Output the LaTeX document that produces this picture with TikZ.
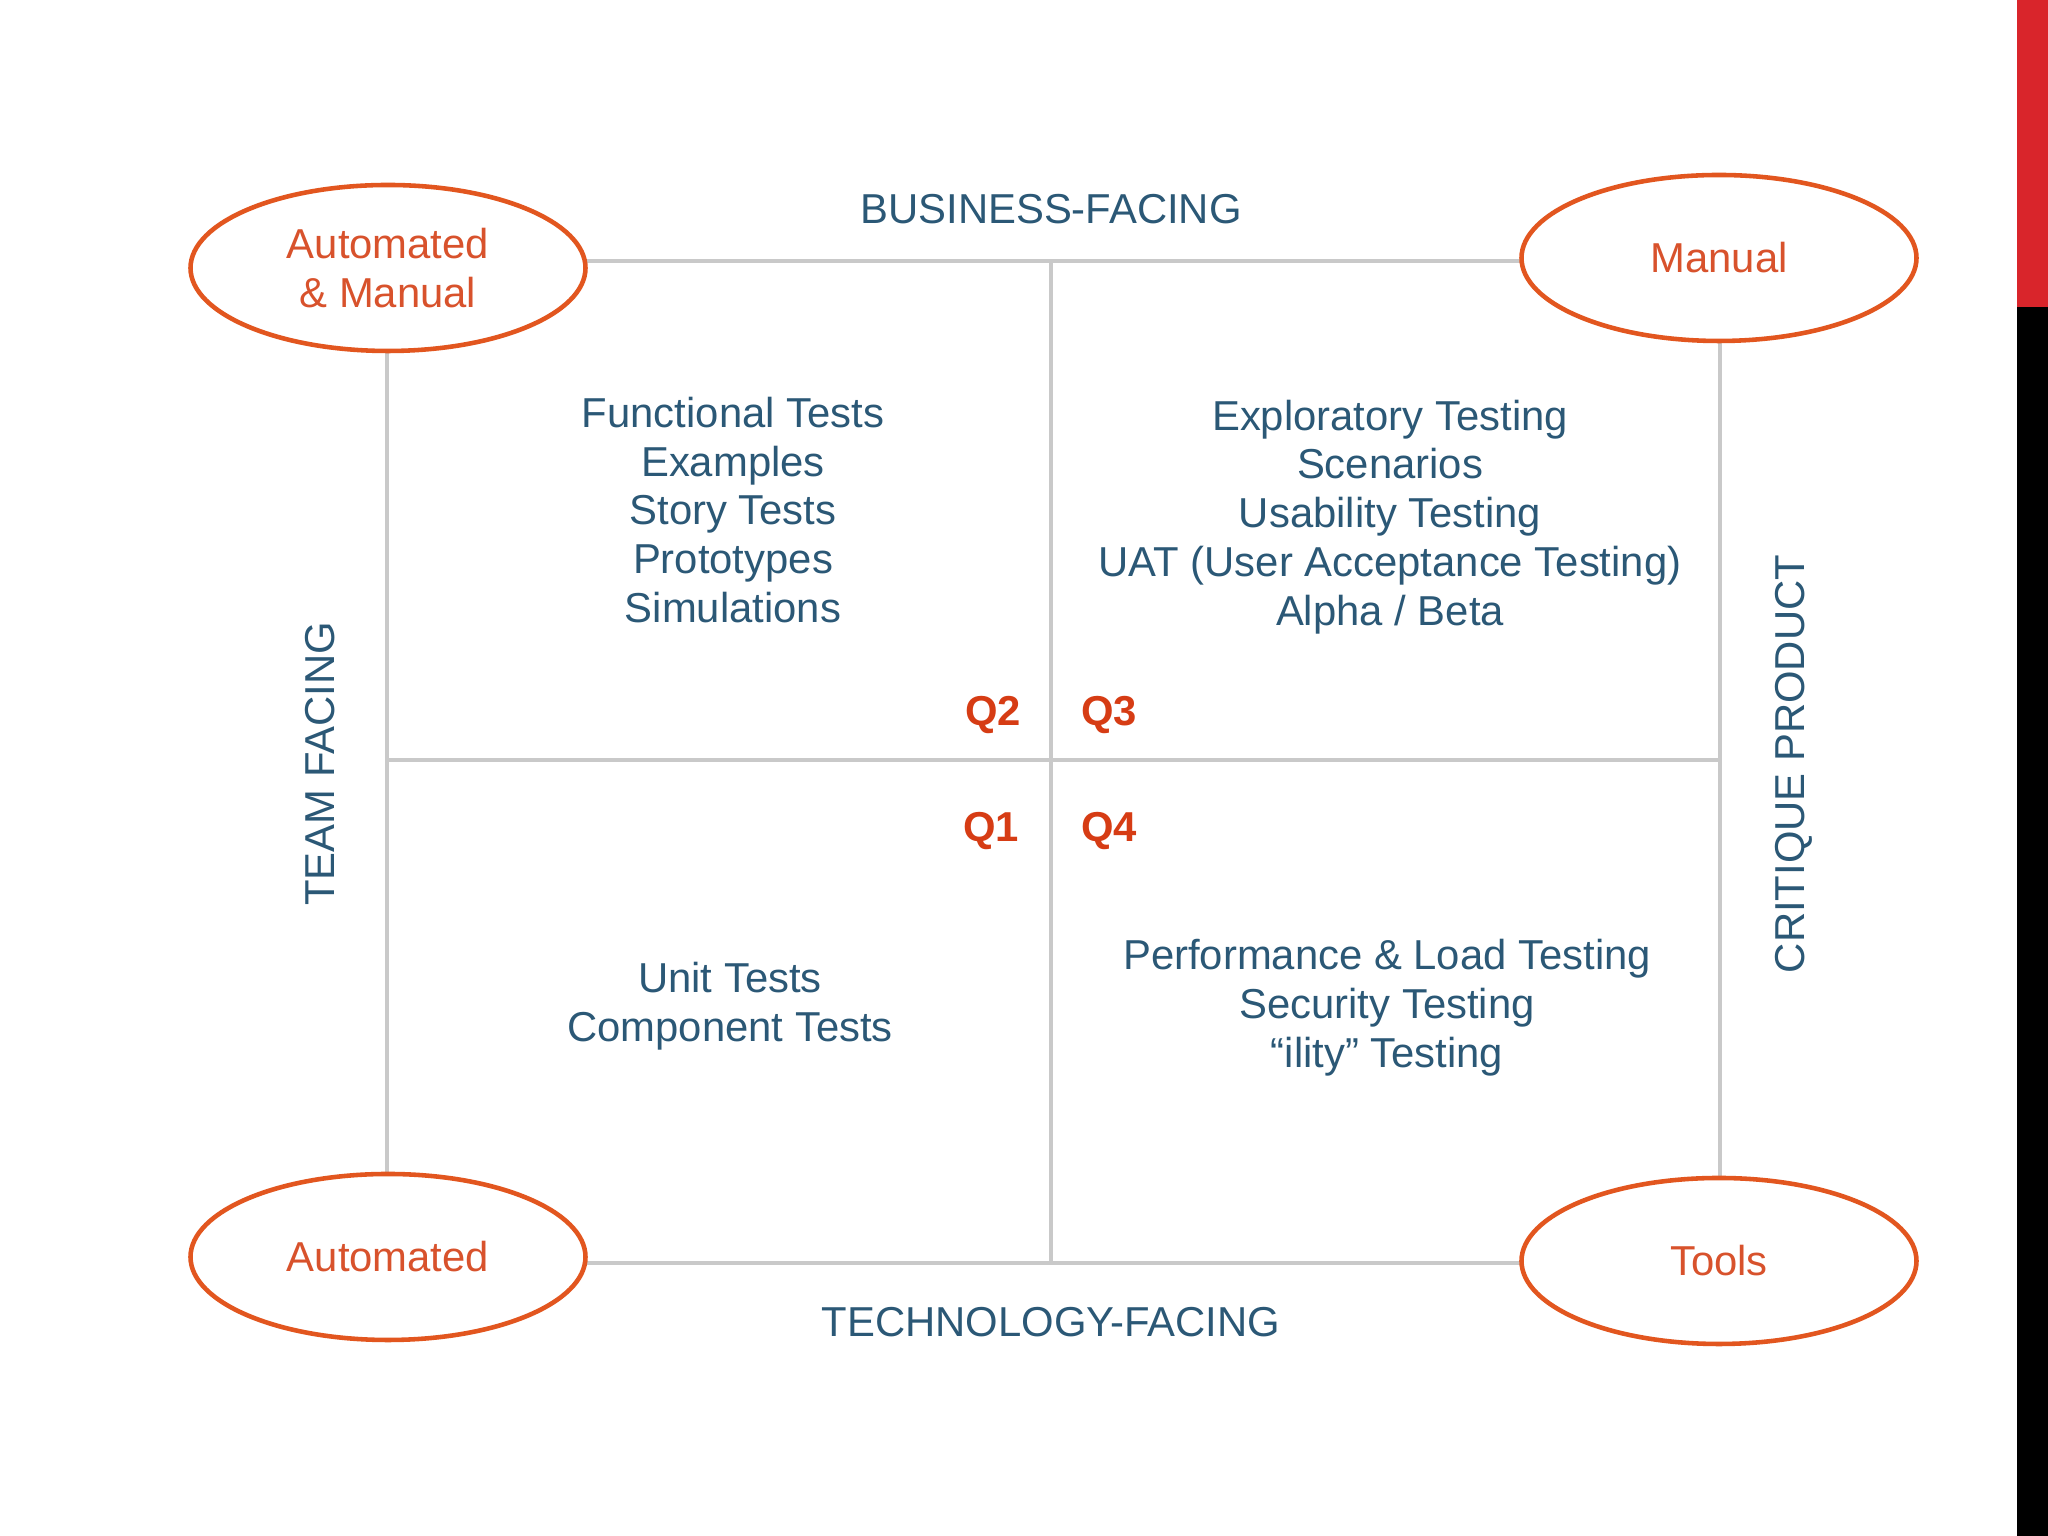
\documentclass[tikz,border=0pt]{standalone}
\usepackage{fontspec}
\setmainfont{Liberation Sans}
\usetikzlibrary{shapes.geometric}
\definecolor{textblue}{HTML}{2B5876}
\definecolor{ovalred}{HTML}{E2561F}
\definecolor{ovaltext}{HTML}{D8522C}
\definecolor{qred}{HTML}{D63C14}
\definecolor{gridgray}{HTML}{C9C9C9}
\definecolor{barred}{HTML}{D9252B}
\newcommand{\bodyfont}{\fontsize{11.9}{13.9}\selectfont}
\tikzstyle{oval}=[ellipse, draw=ovalred, line width=1.3pt, fill=white, minimum width=3.95cm, minimum height=1.66cm, inner sep=0pt, text=ovaltext, align=center, font=\bodyfont]
\tikzstyle{grid}=[draw=gridgray, line width=0.9pt]
\tikzstyle{quad}=[text=textblue, align=center, font=\bodyfont]
\tikzstyle{qlabel}=[text=qred, font=\bodyfont\bfseries]
\newcommand{\ovalnode}{\node[oval]}

\begin{document}
\begin{tikzpicture}
%background
\fill[white] (0,0) rectangle (20.48,15.36);
\fill[barred] (20.17,12.29) rectangle (20.48,15.36);
\fill[black] (20.17,0) rectangle (20.48,12.29);
%grid
\coordinate (tl) at (3.87,12.75); \coordinate (tr) at (17.20,12.75);
\coordinate (bl) at (3.87,2.73); \coordinate (br) at (17.20,2.73);
\coordinate (tm) at (10.51,12.75); \coordinate (bm) at (10.51,2.73);
\coordinate (lm) at (3.87,7.76); \coordinate (rm) at (17.20,7.76);
\draw[grid] (tl) -- (tr) -- (br) -- (bl) -- cycle;
\draw[grid] (tm) -- (bm);
\draw[grid] (lm) -- (rm);
%ovals
\ovalnode (automan) at (3.88,12.68) {Automated\\\& Manual};
\ovalnode (manual) at (17.19,12.78) {Manual};
\ovalnode (auto) at (3.88,2.79) {Automated};
\ovalnode (tools) at (17.19,2.75) {Tools};
%axes
\node[quad] (business) at (10.51,13.27) {BUSINESS-FACING};
\node[quad] (technology) at (10.51,2.14) {TECHNOLOGY-FACING};
\node[quad, rotate=90] (team) at (3.20,7.72) {TEAM FACING};
\node[quad, rotate=90] (critique) at (17.94,7.72) {CRITIQUE PRODUCT};
%quadrants
\node[quad] (q2text) at (7.33,10.26) {Functional Tests\\Examples\\Story Tests\\Prototypes\\Simulations};
\node[quad] (q3text) at (13.90,10.19) {Exploratory Testing\\Scenarios\\Usability Testing\\UAT (User Acceptance Testing)\\Alpha / Beta};
\node[quad] (q1text) at (7.30,5.30) {Unit Tests\\Component Tests};
\node[quad] (q4text) at (13.87,5.28) {Performance \& Load Testing\\Security Testing\\“ility” Testing};
%labels
\foreach \name/\x/\y in {Q2/9.93/8.21, Q3/11.09/8.21, Q1/9.91/7.05, Q4/11.09/7.05}{
	\node[qlabel] (\name) at (\x,\y) {\name};}
\end{tikzpicture}
\end{document}
